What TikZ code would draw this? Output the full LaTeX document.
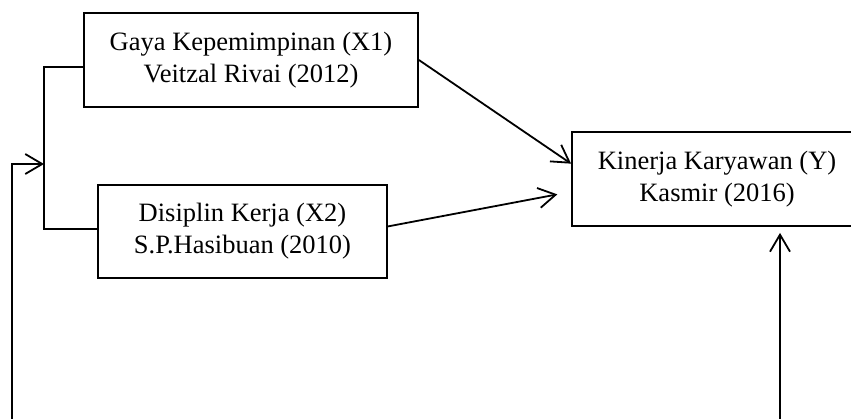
\documentclass[tikz,border=0pt]{standalone}
\usepackage{fontspec}
\setmainfont{Liberation Serif}
\usetikzlibrary{arrows.meta}

\tikzset{
    varbox/.style={draw, line width=1.8pt, align=center, inner sep=0pt, font=\fontsize{26.5}{32}\selectfont},
    link/.style={line width=1.8pt, -{Straight Barb[length=17pt, width=20pt, line width=1.8pt]}},
    plain/.style={line width=1.8pt}
}

\begin{document}
\begin{tikzpicture}[x=1pt, y=-1pt]
    \useasboundingbox (0,0) rectangle (851,418);
    \clip (0,0) rectangle (851,418);

    \node[varbox, minimum width=334pt, minimum height=94pt] (x1box) at (251,60) {Gaya Kepemimpinan (X1)\\Veitzal Rivai (2012)};
    \node[varbox, minimum width=289pt, minimum height=93pt] (x2box) at (242.5,231.5) {Disiplin Kerja (X2)\\S.P.Hasibuan (2010)};
    \node[varbox, minimum width=290pt, minimum height=94pt] (ybox) at (717,179) {Kinerja Karyawan (Y)\\Kasmir (2016)};

    \coordinate (brtop) at (44,67);
    \coordinate (brmid) at (44,164);
    \coordinate (brbot) at (44,229);
    \coordinate (fbstart) at (12,425);
    \coordinate (ystart) at (780,425);

    \draw [plain] (x1box.west |- brtop) -- (brtop) -- (brbot) -- (x2box.west |- brbot);
    \draw [link] (fbstart) |- (brmid);

    \draw [link] (x1box.east) -- (ybox.174);
    \draw [link, shorten >=14pt] (x2box.2.5) -- (ybox.185.3);
    \draw [link, shorten >=6pt] (ystart) -- (ystart |- ybox.south);
\end{tikzpicture}
\end{document}
